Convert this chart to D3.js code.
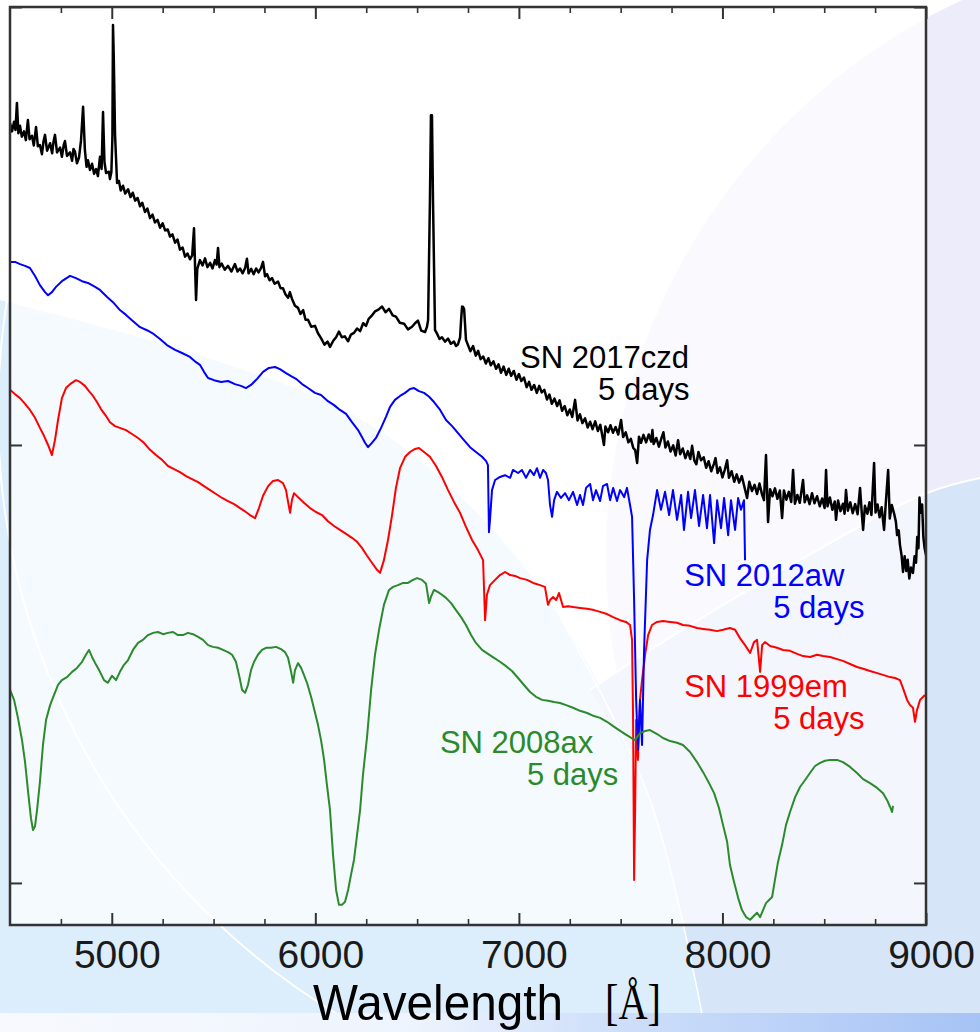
<!DOCTYPE html>
<html>
<head>
<meta charset="utf-8">
<script src="https://cdn.jsdelivr.net/npm/d3@7"></script>
<style>
  html, body { margin: 0; padding: 0; background: #ffffff; }
  svg { display: block; }
</style>
</head>
<body>
<svg id="chart" width="980" height="1032"></svg>
<script>
// ---- Spectra: [wavelength (Å), scaled flux + offset (arbitrary units)] ----
const sn2017czd = [
  [4500,173.5],[4510,171.6],[4520,173.8],[4527,171.9],[4534,178.1],[4541,171.2],[4549,172.9],[4558,170.4],
  [4569,171.6],[4578,169.6],[4588,174.2],[4596,169.8],[4608,170.6],[4617,168.4],[4628,172.6],[4637,168.2],
  [4647,168.5],[4657,166.4],[4665,169.4],[4672,170.8],[4682,167.2],[4697,168.9],[4707,166.6],[4714,169.3],
  [4721,170.8],[4731,166.8],[4746,167.9],[4755,165.8],[4764,168.5],[4770,169.4],[4780,166.0],[4795,166.8],
  [4805,164.9],[4812,167.6],[4819,167.0],[4829,164.3],[4839,165.6],[4849,169.6],[4859,177.2],[4868,167.3],
  [4876,163.5],[4883,165.0],[4893,162.8],[4903,164.2],[4913,161.9],[4923,163.0],[4932,161.4],[4942,165.8],
  [4950,163.0],[4957,176.0],[4964,164.6],[4972,162.1],[4986,162.4],[4991,160.7],[4998,162.3],[5003,170.0],
  [5006,195.9],[5010,188.0],[5016,170.9],[5026,159.8],[5035,160.3],[5044,158.1],[5055,159.2],[5066,157.4],
  [5080,158.4],[5092,156.6],[5103,157.6],[5115,155.8],[5127,156.4],[5139,154.5],[5150,155.3],[5163,153.2],
  [5175,154.0],[5188,151.8],[5200,152.6],[5212,150.8],[5225,151.4],[5237,149.6],[5250,150.6],[5262,149.0],
  [5275,149.2],[5286,147.6],[5298,148.1],[5311,146.2],[5323,146.9],[5335,144.6],[5348,145.1],[5360,143.0],
  [5372,143.7],[5384,142.4],[5395,143.3],[5404,149.5],[5409,141.0],[5414,133.1],[5420,140.2],[5433,142.2],
  [5446,141.0],[5458,142.6],[5470,140.6],[5483,141.6],[5495,140.3],[5507,142.2],[5515,141.2],[5522,145.0],
  [5529,140.6],[5540,141.4],[5555,140.0],[5571,140.9],[5588,139.6],[5605,141.3],[5618,139.6],[5630,140.3],
  [5643,139.2],[5655,140.4],[5664,142.5],[5672,139.2],[5685,140.2],[5697,139.0],[5709,140.3],[5721,139.4],
  [5733,140.4],[5743,141.8],[5753,138.5],[5763,139.0],[5775,137.6],[5787,138.1],[5800,136.8],[5817,137.3],
  [5829,135.8],[5841,135.8],[5853,134.4],[5866,133.6],[5875,134.9],[5885,133.4],[5900,131.8],[5915,131.3],
  [5927,129.9],[5940,130.8],[5952,128.6],[5964,128.6],[5980,127.0],[5998,127.2],[6013,125.5],[6028,124.4],
  [6045,122.9],[6060,123.6],[6072,122.4],[6088,123.8],[6102,124.6],[6116,125.9],[6130,124.6],[6145,124.8],
  [6161,123.7],[6175,125.2],[6190,125.6],[6205,126.6],[6220,126.0],[6235,127.8],[6249,127.2],[6262,128.8],
  [6275,129.4],[6293,130.5],[6310,130.9],[6328,131.6],[6345,130.3],[6362,131.1],[6380,129.6],[6396,129.3],
  [6415,127.9],[6436,127.7],[6455,126.4],[6475,127.0],[6490,127.8],[6504,128.4],[6520,126.1],[6539,125.8],
  [6548,126.9],[6554,128.5],[6563,155.9],[6568,175.3],[6573,175.3],[6578,155.9],[6588,126.2],[6598,125.4],
  [6610,124.2],[6622,124.6],[6637,123.6],[6652,124.3],[6666,123.1],[6681,123.6],[6691,122.6],[6701,123.0],
  [6711,124.5],[6716,128.5],[6721,131.6],[6726,131.5],[6731,131.0],[6740,124.0],[6750,122.8],[6762,121.4],
  [6775,122.6],[6788,120.4],[6800,121.5],[6812,119.6],[6825,120.2],[6838,118.6],[6850,119.8],[6862,118.2],
  [6875,119.1],[6888,117.4],[6900,118.4],[6912,116.5],[6925,117.9],[6938,116.0],[6950,117.4],[6962,115.8],
  [6975,116.9],[6988,114.9],[7000,116.2],[7012,114.6],[7025,115.4],[7038,113.2],[7050,114.4],[7062,112.6],
  [7075,113.7],[7088,111.9],[7100,113.5],[7112,112.0],[7125,112.6],[7138,110.4],[7150,111.5],[7162,109.4],
  [7175,110.6],[7188,108.9],[7200,110.2],[7212,107.8],[7225,108.9],[7238,106.8],[7250,108.1],[7262,106.4],
  [7276,110.3],[7288,105.6],[7300,107.0],[7312,105.0],[7325,106.1],[7338,104.0],[7350,105.3],[7362,103.6],
  [7375,105.4],[7388,103.2],[7400,104.6],[7418,100.0],[7425,104.2],[7438,102.9],[7450,104.5],[7462,102.8],
  [7475,104.1],[7488,102.4],[7502,105.7],[7512,101.8],[7525,102.9],[7538,100.6],[7550,101.4],[7562,99.3],
  [7571,98.9],[7581,95.9],[7590,101.9],[7600,100.5],[7612,102.3],[7625,100.6],[7638,102.4],[7650,100.8],
  [7656,103.4],[7662,100.2],[7675,101.6],[7688,99.6],[7700,101.5],[7710,102.9],[7720,99.4],[7732,100.8],
  [7745,98.5],[7758,99.9],[7770,97.6],[7782,101.1],[7792,97.9],[7805,99.2],[7818,97.0],[7830,98.6],
  [7842,96.8],[7851,99.8],[7862,96.4],[7872,95.6],[7882,98.4],[7895,96.5],[7908,97.2],[7920,94.8],
  [7932,96.3],[7945,94.0],[7958,95.7],[7966,97.0],[7976,93.6],[7988,94.9],[8000,92.6],[8012,94.4],
  [8023,96.5],[8032,92.5],[8045,94.0],[8058,91.6],[8070,93.3],[8082,91.4],[8095,92.9],[8108,90.4],
  [8121,87.9],[8132,91.6],[8145,89.5],[8158,90.9],[8170,88.8],[8182,91.2],[8195,88.6],[8204,87.4],
  [8214,97.7],[8224,82.4],[8234,89.9],[8246,88.3],[8258,90.1],[8270,87.7],[8282,89.6],[8293,83.3],
  [8302,89.6],[8314,87.5],[8326,89.3],[8338,87.0],[8347,94.3],[8356,86.6],[8368,88.6],[8380,86.8],
  [8396,92.0],[8404,86.9],[8416,88.5],[8428,86.5],[8440,89.0],[8452,86.7],[8465,88.3],[8478,86.0],
  [8490,87.8],[8502,85.6],[8509,94.3],[8516,86.0],[8528,88.0],[8540,85.2],[8552,87.1],[8558,82.9],
  [8568,87.3],[8580,84.9],[8592,86.6],[8600,84.3],[8607,89.7],[8616,85.0],[8628,86.9],[8640,84.4],
  [8652,86.5],[8664,84.2],[8676,90.2],[8684,84.8],[8691,80.6],[8700,86.1],[8712,84.3],[8722,86.9],
  [8732,84.0],[8745,95.9],[8752,84.6],[8762,86.4],[8772,83.5],[8782,85.8],[8794,80.6],[8802,86.4],
  [8814,94.3],[8822,83.2],[8832,86.3],[8843,84.4],[8852,82.5],[8858,79.4],[8866,80.5],[8872,77.2],
  [8880,74.8],[8887,71.0],[8895,74.6],[8903,71.2],[8910,73.8],[8918,69.5],[8926,72.0],[8936,70.8],
  [8944,74.6],[8951,73.1],[8957,79.0],[8963,76.4],[8968,88.0],[8974,84.5],[8981,86.4],[8987,79.0],
  [8993,76.5],[9000,74.9]
];

const sn2012aw = [
  [4500,141.8],[4525,141.8],[4549,141.3],[4574,140.9],[4598,140.4],[4623,138.6],[4647,136.5],[4672,134.9],
  [4687,134.2],[4706,134.9],[4726,136.1],[4755,137.4],[4795,138.6],[4824,138.1],[4854,137.4],[4883,137.0],
  [4918,136.1],[4942,135.4],[4977,133.8],[5006,132.6],[5040,130.8],[5070,129.7],[5099,128.5],[5139,126.9],
  [5173,126.2],[5207,125.3],[5237,124.2],[5271,122.8],[5311,121.7],[5345,121.0],[5384,120.1],[5414,118.9],
  [5433,118.3],[5453,116.7],[5473,115.3],[5502,114.8],[5537,114.4],[5571,114.6],[5605,113.9],[5635,113.5],
  [5659,113.0],[5684,113.7],[5714,115.1],[5743,116.7],[5772,117.6],[5802,117.8],[5826,117.3],[5856,116.4],
  [5881,115.7],[5905,115.1],[5935,113.9],[5964,113.0],[5998,111.9],[6028,111.4],[6062,110.0],[6092,109.1],
  [6121,108.0],[6151,107.1],[6180,105.2],[6210,103.4],[6229,101.8],[6244,100.5],[6259,99.5],[6278,100.5],
  [6298,101.6],[6323,103.9],[6347,106.4],[6367,108.7],[6391,110.3],[6416,111.2],[6441,111.9],[6465,112.8],
  [6485,113.0],[6509,112.3],[6534,111.9],[6559,111.0],[6583,109.8],[6613,108.0],[6642,105.7],[6672,104.3],
  [6701,102.7],[6730,101.1],[6760,99.5],[6789,98.4],[6819,97.3],[6839,96.3],[6848,95.4],[6853,80.1],
  [6858,82.9],[6868,89.7],[6883,92.0],[6907,92.7],[6932,93.1],[6957,92.5],[6971,94.3],[6996,93.6],
  [7015,94.3],[7035,92.5],[7055,94.3],[7074,93.1],[7089,94.7],[7104,92.5],[7119,94.3],[7133,93.6],
  [7143,92.0],[7153,86.3],[7163,83.6],[7173,87.4],[7187,89.3],[7207,87.9],[7227,89.0],[7246,87.4],
  [7266,89.3],[7286,86.3],[7300,88.6],[7315,86.3],[7330,90.2],[7350,91.1],[7364,87.4],[7379,89.7],
  [7399,87.2],[7413,90.6],[7433,91.1],[7448,87.4],[7463,90.2],[7482,87.2],[7497,89.7],[7517,88.1],
  [7531,90.2],[7546,86.3],[7556,83.6],[7566,64.6],[7576,41.8],[7585,30.4],[7595,41.8],[7605,31.5],
  [7615,53.2],[7630,73.7],[7644,80.6],[7659,84.0],[7679,89.7],[7698,85.2],[7718,89.3],[7738,84.0],
  [7757,89.7],[7777,82.9],[7797,88.6],[7811,80.6],[7831,89.3],[7846,83.3],[7865,89.7],[7885,81.5],
  [7905,88.6],[7924,81.0],[7939,88.6],[7959,77.6],[7974,87.4],[7993,81.0],[8008,87.9],[8028,79.4],
  [8042,87.4],[8062,80.6],[8077,87.9],[8091,85.2],[8106,87.4],[8111,73.7]
];

const sn1999em = [
  [4500,112.6],[4525,111.6],[4549,110.7],[4574,109.4],[4598,108.0],[4623,106.2],[4647,103.9],[4667,102.1],
  [4687,100.0],[4706,97.7],[4721,101.1],[4736,105.7],[4755,110.7],[4775,113.0],[4795,113.9],[4824,114.8],
  [4844,114.4],[4868,113.5],[4888,112.3],[4908,111.2],[4927,109.8],[4947,108.2],[4972,106.6],[4991,105.2],
  [5016,104.3],[5040,103.9],[5070,103.4],[5099,102.5],[5129,101.6],[5158,100.5],[5188,98.9],[5217,97.7],
  [5247,96.6],[5276,95.2],[5306,94.5],[5335,93.8],[5365,92.9],[5394,92.2],[5424,91.5],[5453,90.6],
  [5483,89.7],[5512,88.8],[5542,87.9],[5571,87.2],[5601,86.5],[5630,85.6],[5659,84.7],[5679,84.0],
  [5704,83.3],[5723,85.6],[5743,88.4],[5768,90.6],[5792,91.8],[5817,92.0],[5841,91.3],[5856,89.7],
  [5866,87.0],[5876,84.5],[5885,87.4],[5895,89.0],[5915,88.1],[5944,86.8],[5974,85.6],[6003,84.7],
  [6033,84.0],[6062,82.6],[6092,81.5],[6121,80.6],[6151,79.7],[6180,78.8],[6205,77.9],[6229,76.5],
  [6254,74.7],[6278,73.1],[6303,71.5],[6318,70.8],[6337,73.7],[6357,78.3],[6377,84.0],[6396,90.2],
  [6416,94.7],[6441,97.3],[6465,98.4],[6490,99.1],[6509,99.3],[6534,98.4],[6563,97.3],[6593,95.2],
  [6622,92.7],[6652,89.7],[6681,87.0],[6711,84.5],[6740,81.3],[6770,78.3],[6799,76.0],[6824,73.7],
  [6834,60.0],[6843,65.8],[6858,68.0],[6883,69.2],[6907,70.3],[6932,71.0],[6957,70.3],[6981,70.1],
  [7006,69.6],[7040,69.2],[7070,68.5],[7104,68.0],[7128,67.6],[7143,63.5],[7153,64.6],[7168,65.3],
  [7183,64.6],[7197,66.2],[7217,63.0],[7241,63.2],[7266,63.0],[7300,62.8],[7335,62.6],[7369,62.3],
  [7399,61.9],[7433,61.4],[7463,60.7],[7497,60.0],[7526,59.6],[7546,58.9],[7556,55.5],[7561,37.2],
  [7566,0.7],[7571,16.7],[7576,37.2],[7585,28.1],[7595,41.8],[7605,46.3],[7620,52.1],[7635,56.6],
  [7654,58.9],[7679,59.6],[7708,59.8],[7743,59.6],[7777,59.4],[7806,58.9],[7841,58.7],[7875,58.2],
  [7905,58.0],[7939,57.8],[7973,57.5],[8003,57.8],[8037,58.2],[8062,57.8],[8086,55.9],[8111,54.3],
  [8136,52.5],[8155,55.0],[8170,55.5],[8185,48.2],[8195,54.3],[8209,55.0],[8234,54.1],[8268,53.7],
  [8298,53.2],[8332,53.0],[8367,52.3],[8396,51.8],[8430,51.6],[8465,52.1],[8494,51.8],[8529,51.6],
  [8563,51.1],[8592,50.7],[8627,50.0],[8661,49.3],[8691,48.9],[8725,48.4],[8760,47.9],[8789,47.5],
  [8823,47.0],[8848,46.8],[8872,46.3],[8887,44.5],[8907,41.8],[8922,40.6],[8936,40.0],[8946,36.8],
  [8956,39.5],[8971,41.8],[8986,42.5],[8995,42.9]
];

const sn2008ax = [
  [4500,44.1],[4520,41.8],[4539,37.7],[4559,32.6],[4574,27.6],[4588,21.2],[4603,14.8],[4613,12.1],
  [4623,13.0],[4633,16.7],[4647,23.1],[4662,31.5],[4677,37.2],[4697,40.6],[4716,42.9],[4736,45.2],
  [4755,46.3],[4780,47.0],[4805,48.2],[4829,49.1],[4854,50.5],[4873,52.1],[4888,53.2],[4903,51.6],
  [4923,49.8],[4942,48.2],[4962,46.3],[4981,45.7],[5001,47.3],[5021,46.3],[5040,48.2],[5060,49.8],
  [5080,50.9],[5104,53.2],[5129,54.8],[5153,55.5],[5178,56.6],[5203,57.1],[5227,57.3],[5252,56.8],
  [5276,57.1],[5301,57.3],[5325,56.6],[5350,56.6],[5374,57.1],[5399,56.8],[5424,56.2],[5448,55.5],
  [5473,54.3],[5497,53.9],[5522,53.7],[5546,53.2],[5571,52.7],[5591,52.1],[5610,50.5],[5625,47.5],
  [5640,44.1],[5655,43.4],[5669,45.2],[5684,48.6],[5699,50.5],[5718,52.1],[5738,53.2],[5758,53.7],
  [5782,53.7],[5807,53.9],[5831,53.4],[5851,52.7],[5866,51.4],[5881,48.2],[5891,45.7],[5900,48.6],
  [5915,50.2],[5930,49.1],[5944,47.5],[5959,45.7],[5979,42.5],[5998,39.0],[6013,36.1],[6028,32.6],
  [6043,28.1],[6057,22.4],[6072,16.7],[6087,6.4],[6102,-1.6],[6116,-5.0],[6131,-5.0],[6146,-4.3],
  [6161,-1.6],[6175,1.8],[6190,5.3],[6205,11.0],[6220,16.7],[6234,24.7],[6254,33.3],[6274,44.1],
  [6293,52.1],[6313,57.8],[6337,63.5],[6362,66.9],[6382,67.6],[6406,68.0],[6431,68.5],[6455,68.5],
  [6480,69.2],[6500,69.6],[6524,69.2],[6544,68.3],[6559,63.9],[6568,65.3],[6583,66.9],[6603,66.4],
  [6622,65.8],[6642,65.1],[6667,63.9],[6691,62.3],[6716,60.7],[6740,58.9],[6765,56.6],[6789,54.8],
  [6819,53.2],[6848,52.3],[6878,51.4],[6907,50.5],[6937,49.5],[6966,48.4],[6996,46.8],[7025,45.2],
  [7055,43.6],[7084,42.5],[7114,41.8],[7143,41.6],[7173,41.3],[7202,41.1],[7232,40.6],[7266,40.0],
  [7300,39.3],[7335,38.8],[7369,38.1],[7399,37.7],[7433,36.8],[7463,35.8],[7492,34.9],[7522,34.0],
  [7546,33.3],[7571,32.6],[7595,34.2],[7620,34.7],[7644,34.9],[7679,34.0],[7708,33.1],[7743,32.4],
  [7777,32.0],[7806,31.5],[7841,29.9],[7875,27.6],[7905,25.3],[7934,22.8],[7959,20.5],[7983,17.1],
  [8003,13.2],[8023,9.4],[8037,4.1],[8057,0.2],[8077,-3.4],[8096,-6.2],[8116,-7.8],[8136,-8.4],
  [8155,-7.5],[8170,-6.8],[8185,-7.8],[8204,-5.7],[8214,-4.6],[8229,-3.9],[8244,-3.2],[8258,0.7],
  [8273,4.8],[8293,8.7],[8312,13.2],[8332,16.2],[8357,19.6],[8381,21.9],[8406,23.5],[8430,25.1],
  [8455,26.7],[8480,27.4],[8504,27.9],[8529,28.1],[8563,28.1],[8592,27.6],[8627,26.5],[8661,25.1],
  [8691,23.7],[8725,22.8],[8760,21.7],[8789,20.5],[8809,18.9],[8823,17.4],[8833,16.2],[8838,17.6]
];

// Axis ticks
const xMajorTicks = [5000, 6000, 7000, 8000, 9000];
const xMinorTicks = [4750, 5250, 5500, 5750, 6250, 6500, 6750, 7250, 7500, 7750, 8250, 8500, 8750];
const yTicks = [0, 100, 200];

// Series names and epochs
const seriesNames = ["SN 2017czd", "SN 1999em", "SN 2012aw", "SN 2008ax"];
const seriesEpochs = ["5 days", "5 days", "5 days", "5 days"];

// ---------------- layout ----------------
const W = 980, H = 1032;
const plot = { left: 10, top: 7, right: 926, bottom: 925 };

const x = d3.scaleLinear().domain([4500, 9000]).range([plot.left, plot.right]);
const y = d3.scaleLinear().domain([-9.6, 200]).range([plot.bottom, plot.top]);

const svg = d3.select("#chart");
const defs = svg.append("defs");

defs.append("clipPath").attr("id", "plotClip")
  .append("rect")
  .attr("x", plot.left).attr("y", plot.top)
  .attr("width", plot.right - plot.left).attr("height", plot.bottom - plot.top);

const band = defs.append("linearGradient").attr("id", "bandGrad")
  .attr("x1", 0).attr("x2", 1).attr("y1", 0).attr("y2", 0);
[[0, "#f7f9fe"], [0.42, "#eef4fd"], [0.6, "#d2e1fa"], [1, "#a6c3f5"]]
  .forEach(([o, c]) => band.append("stop").attr("offset", o).attr("stop-color", c));

// ---------------- slide backdrop ----------------
const bg = svg.append("g").attr("class", "backdrop");
bg.append("rect").attr("width", W).attr("height", H).attr("fill", "#ffffff");

const smooth = d3.line().curve(d3.curveCatmullRom.alpha(0.5));

// lavender disc at upper right
bg.append("circle").attr("cx", 1221).attr("cy", 558).attr("r", 615).attr("fill", "#ececfb");

// pale blue sweep at lower left
bg.append("path")
  .attr("d", smooth([[-20, 296], [11, 303], [214, 360], [357, 417], [464, 500], [560, 617], [650, 800], [707, 1040]])
        + "L-20,1040Z")
  .attr("fill", "#dcedfb");

// bluer wedge at lower right
bg.append("path")
  .attr("d", smooth([[590, 690], [650, 650], [800, 560], [927, 493], [990, 476]])
        + "L990,1040L707,1040" +
        smooth([[707, 1040], [650, 800], [590, 690]]).replace(/^M[^C]*/, "") + "Z")
  .attr("fill", "#d6e5f8");

// thin light arcs
bg.append("path")
  .attr("d", smooth([[590, 690], [650, 650], [800, 560], [927, 493], [990, 476]]))
  .attr("fill", "none").attr("stroke", "#ffffff").attr("stroke-width", 2);
bg.append("path")
  .attr("d", smooth([[560, 617], [650, 800], [707, 1040]]))
  .attr("fill", "none").attr("stroke", "#ffffff").attr("stroke-width", 1.5);
bg.append("circle").attr("cx", 700).attr("cy", 413).attr("r", 702)
  .attr("fill", "none").attr("stroke", "#ffffff").attr("stroke-width", 2);

// bottom strip
bg.append("rect").attr("x", 0).attr("y", 1013).attr("width", W).attr("height", H - 1013)
  .attr("fill", "url(#bandGrad)");

// ---------------- plot panel ----------------
svg.append("rect")
  .attr("x", plot.left).attr("y", plot.top)
  .attr("width", plot.right - plot.left).attr("height", plot.bottom - plot.top)
  .attr("fill", "#ffffff").attr("fill-opacity", 0.7);

// ---------------- spectra ----------------
const line = d3.line().x(d => x(d[0])).y(d => y(d[1]));
const spectra = [
  { data: sn2017czd, color: "#000000", width: 2.5 },
  { data: sn1999em,  color: "#ff0000", width: 2.0 },
  { data: sn2012aw,  color: "#0000ff", width: 2.0 },
  { data: sn2008ax,  color: "#2b8a2b", width: 2.0 }
];
const specG = svg.append("g").attr("clip-path", "url(#plotClip)");
spectra.forEach(s => {
  specG.append("path")
    .datum(s.data)
    .attr("d", line)
    .attr("fill", "none")
    .attr("stroke", s.color)
    .attr("stroke-width", s.width)
    .attr("stroke-linejoin", "round");
});

// ---------------- labels ----------------
const labelFont = "'Liberation Sans', Arial, Helvetica, sans-serif";
const labelSpecs = [
  { name: 0, color: "#000000", l1: [7006, 117.6], l2: [7389, 110.3] },
  { name: 2, color: "#0000ff", l1: [7812, 67.8],  l2: [8249, 60.5] },
  { name: 1, color: "#ff0000", l1: [7812, 42.5],  l2: [8249, 35.2] },
  { name: 3, color: "#2b8a2b", l1: [6612, 29.7],  l2: [7040, 22.4] }
];
const labG = svg.append("g").attr("font-family", labelFont).attr("font-size", 31);
labelSpecs.forEach(l => {
  labG.append("text").attr("x", x(l.l1[0])).attr("y", y(l.l1[1]))
    .attr("fill", l.color).text(seriesNames[l.name]);
  labG.append("text").attr("x", x(l.l2[0])).attr("y", y(l.l2[1]))
    .attr("fill", l.color).text(seriesEpochs[l.name]);
});

// ---------------- axes ----------------
const axisColor = "#333333";
function styleAxis(g, w) {
  g.select(".domain").remove();
  g.selectAll(".tick line").attr("stroke", axisColor).attr("stroke-width", w);
}
// bottom
svg.append("g").attr("transform", `translate(0,${plot.bottom})`)
  .call(d3.axisBottom(x).tickValues(xMajorTicks).tickSize(-12).tickPadding(15).tickFormat(d3.format("d")))
  .call(g => {
    styleAxis(g, 2);
    g.selectAll(".tick text")
      .attr("x", 5)
      .attr("fill", "#1a1a1a")
      .attr("font-family", labelFont)
      .attr("font-size", 39);
  });
svg.append("g").attr("transform", `translate(0,${plot.bottom})`)
  .call(d3.axisBottom(x).tickValues(xMinorTicks).tickSize(-6).tickFormat(""))
  .call(g => styleAxis(g, 1.6));
// top
svg.append("g").attr("transform", `translate(0,${plot.top})`)
  .call(d3.axisTop(x).tickValues(xMajorTicks).tickSize(-12).tickFormat(""))
  .call(g => styleAxis(g, 2));
svg.append("g").attr("transform", `translate(0,${plot.top})`)
  .call(d3.axisTop(x).tickValues(xMinorTicks).tickSize(-6).tickFormat(""))
  .call(g => styleAxis(g, 1.6));
// left / right
svg.append("g").attr("transform", `translate(${plot.left},0)`)
  .call(d3.axisLeft(y).tickValues(yTicks).tickSize(-12).tickFormat(""))
  .call(g => styleAxis(g, 2));
svg.append("g").attr("transform", `translate(${plot.right},0)`)
  .call(d3.axisRight(y).tickValues(yTicks).tickSize(-12).tickFormat(""))
  .call(g => styleAxis(g, 2));

// frame
svg.append("rect")
  .attr("x", plot.left).attr("y", plot.top)
  .attr("width", plot.right - plot.left).attr("height", plot.bottom - plot.top)
  .attr("fill", "none").attr("stroke", axisColor).attr("stroke-width", 2.5);

// ---------------- axis title ----------------
svg.append("text")
  .attr("x", 313).attr("y", 1020)
  .attr("font-family", labelFont).attr("font-size", 50).attr("fill", "#000000")
  .attr("textLength", 250).attr("lengthAdjust", "spacingAndGlyphs")
  .text("Wavelength");
svg.append("text")
  .attr("x", 605).attr("y", 1019)
  .attr("font-family", "'Liberation Serif', 'Times New Roman', serif").attr("font-size", 50).attr("fill", "#000000")
  .attr("textLength", 56).attr("lengthAdjust", "spacingAndGlyphs")
  .text("[Å]");
</script>
</body>
</html>
